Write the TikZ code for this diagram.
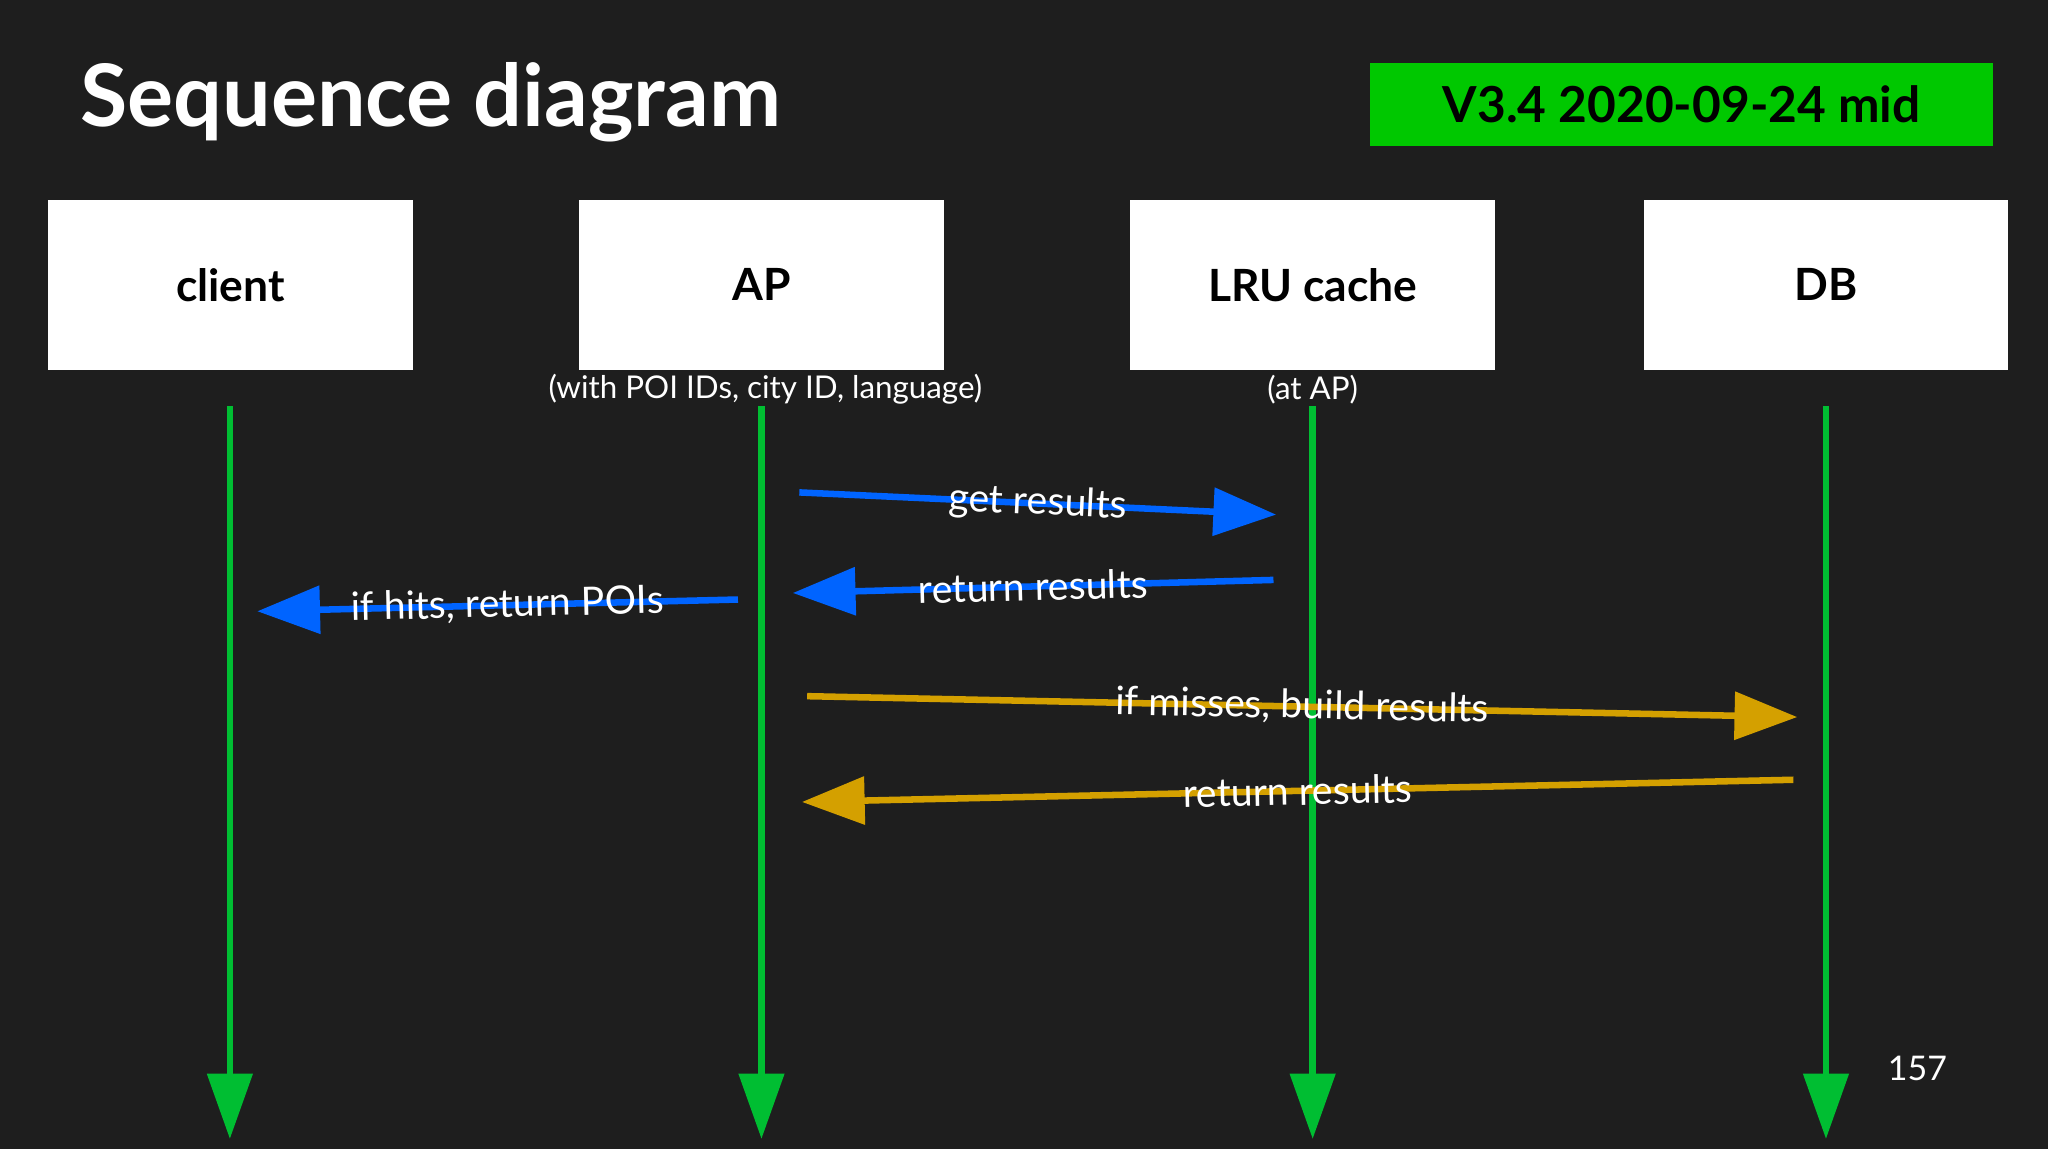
\documentclass[tikz,border=0pt]{standalone}
\usepackage{fontspec}
\setmainfont{Lato}
\usetikzlibrary{arrows.meta}
\definecolor{bg}{RGB}{30,30,30}
\definecolor{lg}{RGB}{0,190,50}
\definecolor{bl}{RGB}{0,100,255}
\definecolor{gd}{RGB}{212,160,0}
\definecolor{badge}{RGB}{0,200,0}
\begin{document}
\begin{tikzpicture}[x=1pt,y=-1pt,
  actor/.style={fill=white,minimum width=279pt,minimum height=130pt,inner sep=0pt,font=\fontsize{34}{40}\selectfont\bfseries,text=black},
  life/.style={lg,line width=5pt,-{Triangle[length=50pt,width=34pt]}},
  msg/.style={line width=5pt,-{Triangle[length=48pt,width=36pt]}},
  lab/.style={text=white,font=\fontsize{30}{34}\selectfont,sloped,midway,inner sep=0pt},
  sub/.style={text=white,font=\fontsize{24}{28}\selectfont}]
\fill[bg] (0,0) rectangle (1568,880);
\useasboundingbox (0,0) rectangle (1568,880);
\node[text=white,font=\fontsize{66}{72}\selectfont\bfseries,anchor=west] (title) at (58,78) {Sequence diagram};
\node[fill=badge,minimum width=477pt,minimum height=64pt,font=\fontsize{38}{44}\selectfont\bfseries,text=black] (ver) at (1287.5,80) {V3.4 2020-09-24 mid};
\node[actor] (client) at (176.5,218) {client};
\node[actor] (ap) at (583,218) {AP};
\node[actor] (lru) at (1005,218) {LRU cache};
\node[actor] (db) at (1398,218) {DB};
\node[sub] (apsub) at (586,298) {(with POI IDs, city ID, language)};
\node[sub] (lrusub) at (1005,298) {(at AP)};
\node[text=white,font=\fontsize{26}{30}\selectfont] (pg) at (1468,818) {157};
\foreach \n/\x in {c/176,a/583,l/1005,d/1398}{
  \coordinate (\n top) at (\x,311);
  \coordinate (\n bot) at (\x,872);
  \draw[life] (\n top) -- (\n bot);
}
\coordinate (m1s) at (612,377); \coordinate (m1e) at (977,394);
\coordinate (m2s) at (975,444); \coordinate (m2e) at (607,454);
\coordinate (m3s) at (565,459); \coordinate (m3e) at (197,468);
\coordinate (m4s) at (618,533); \coordinate (m4e) at (1376,549);
\coordinate (m5s) at (1373,597); \coordinate (m5e) at (614,614);
\draw[msg,bl] (m1s) -- node[lab] {get results} (m1e);
\draw[msg,bl] (m2s) -- node[lab] {return results} (m2e);
\draw[msg,bl] (m3s) -- node[lab,pos=0.48] {if hits, return POIs} (m3e);
\draw[msg,gd] (m4s) -- node[lab,pos=0.5] {if misses, build results} (m4e);
\draw[msg,gd] (m5s) -- node[lab] {return results} (m5e);
\end{tikzpicture}
\end{document}
